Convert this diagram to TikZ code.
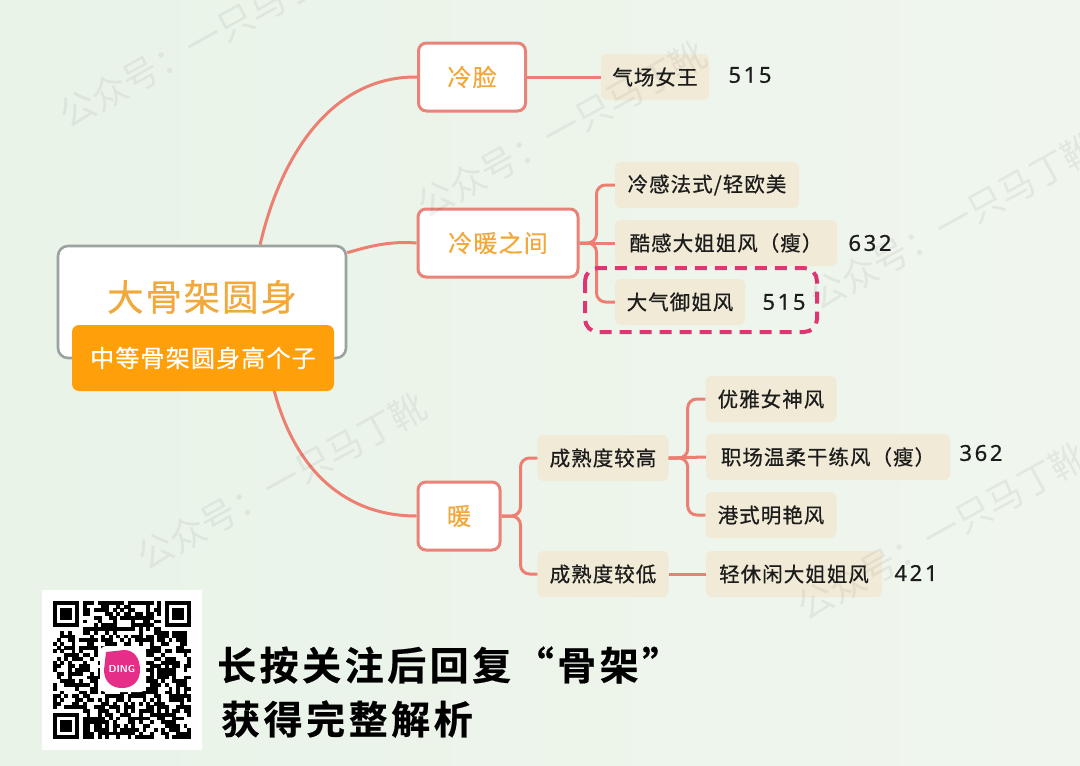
\documentclass[tikz,border=0pt]{standalone}
\usepackage{fontspec}
\usetikzlibrary{calc}
\newfontfamily\cjk[LetterSpace=5,FakeBold=0.6]{Noto Sans CJK SC}
\newfontfamily\cjkb[LetterSpace=9,BoldFont={Noto Sans CJK SC Bold},BoldFeatures={FakeBold=0.5}]{Noto Sans CJK SC}
\newfontfamily\wmfont{Noto Sans CJK SC}
\newfontfamily\numfont[LetterSpace=12,FakeBold=0.5]{Noto Sans}
\definecolor{bgl}{HTML}{E9F3E8}
\definecolor{bgr}{HTML}{F0F6EE}
\definecolor{link}{HTML}{EC7F72}
\definecolor{boxline}{HTML}{E98278}
\definecolor{tan}{HTML}{F1EAD6}
\definecolor{gold}{HTML}{F2A93B}
\definecolor{orange}{HTML}{FF9F0A}
\definecolor{rootline}{HTML}{9BA3A0}
\definecolor{dash}{HTML}{DF3673}
\definecolor{ink}{HTML}{1C1C1C}
\tikzset{
  conn/.style={draw=link,line width=3pt,rounded corners=9pt},
  curve/.style={draw=link,line width=3pt},
  mainbox/.style={draw=boxline,line width=3pt,fill=white,rounded corners=8pt,inner sep=0pt,text=gold,font=\cjk\fontsize{24}{28}\selectfont},
  leaf/.style={fill=tan,rounded corners=6pt,inner sep=0pt,minimum height=46pt,text=ink,font=\cjk\fontsize{20.5}{24}\selectfont},
  num/.style={text=ink,inner sep=0pt,font=\numfont\fontsize{22}{26}\selectfont},
  watermark/.style={text=black,opacity=0.055,rotate=29,anchor=west,inner sep=0pt,font=\wmfont\fontsize{36}{40}\selectfont},
  bigline/.style={text=black,anchor=west,inner sep=0pt,font=\cjkb\bfseries\fontsize{39}{44}\selectfont},
  qrm/.style={fill=black,draw=none},
}
\begin{document}
\begin{tikzpicture}[x=1pt,y=-1pt]
\useasboundingbox (0,0) rectangle (1080,766);
\shade[left color=bgl,right color=bgr] (0,0) rectangle (1080,766);

\node[draw=rootline,line width=2.6pt,fill=white,rounded corners=10pt,minimum width=288pt,minimum height=112pt,inner sep=0pt] (root) at (202,302) {};
\coordinate (rt1) at ($(root.north west)!0.70!(root.north east)$);
\coordinate (rt2) at ($(root.north east)+(0,8)$);
\coordinate (rt3) at (274,390);
\coordinate (bend1) at (507,0);

\node[mainbox,minimum width=107pt,minimum height=68pt] (cold) at (472,77) {冷脸};
\node[mainbox,minimum width=160pt,minimum height=68pt] (mid) at (498,243) {冷暖之间};
\node[mainbox,minimum width=82pt,minimum height=68pt] (warm) at (459,516) {暖};
\node[leaf,minimum width=108pt] (l1) at (655,77) {气场女王};
\node[leaf,minimum width=184pt] (l2) at (707,185) {冷感法式/轻欧美};
\node[leaf,minimum width=222pt] (l3) at (726,243) {酷感大姐姐风（瘦）};
\node[leaf,minimum width=130pt] (l4) at (680,302) {大气御姐风};
\node[leaf,minimum width=131pt] (h) at (603,458) {成熟度较高};
\node[leaf,minimum width=131pt] (lo) at (603,574) {成熟度较低};
\node[leaf,minimum width=131pt] (w1) at (771,399) {优雅女神风};
\node[leaf,minimum width=244pt] (w2) at (828,457) {职场温柔干练风（瘦）};
\node[leaf,minimum width=131pt] (w3) at (771,515) {港式明艳风};
\node[leaf,minimum width=176pt] (w4) at (794,574) {轻休闲大姐姐风};

\draw[curve] (rt1) .. controls (282,150) and (335,76) .. (cold.west);
\draw[curve] (rt2) .. controls (370,246) and (390,241) .. (mid.west);
\draw[curve] (rt3) .. controls (295,470) and (345,516) .. (warm.west);
\draw[conn] (cold.east) -- (l1.west);
\draw[conn] (mid.east) -- (l3.west);
\draw[conn] (mid.east) -- ++(17,0) |- (l2.west);
\draw[conn] (mid.east) -- ++(17,0) |- (l4.west);
\draw[conn] (warm.east) -- ++(19,0) |- (h.west);
\draw[conn] (warm.east) -- ++(19,0) |- (lo.west);
\draw[conn] (h.east) -- (w2.west);
\draw[conn] (h.east) -- ++(19,0) |- (w1.west);
\draw[conn] (h.east) -- ++(19,0) |- (w3.west);
\draw[conn] (lo.east) -- (w4.west);

\node[inner sep=0pt,text=gold,font=\cjk\fontsize{36.5}{40}\selectfont] (title) at (202,297) {大骨架圆身};
\node[fill=orange,rounded corners=7pt,minimum width=262pt,minimum height=66pt,inner sep=0pt,text=white,font=\cjk\fontsize{24}{27}\selectfont] (badge) at (203,358) {中等骨架圆身高个子};

\node[num] (n1) at (750,75) {515};
\node[num] (n2) at (870,243) {632};
\node[num] (n3) at (784,302) {515};
\node[num] (n4) at (981,453) {362};
\node[num] (n5) at (916,573) {421};

\draw[draw=dash,line width=4pt,rounded corners=13pt,dash pattern=on 12pt off 8pt] (585,268) rectangle (817,332);

\fill[white] (42,590) rectangle (202,750);
\pgfmathsetseed{20}
\begin{scope}[shift={(53,601)},x=3.73pt,y=-3.73pt]
  \foreach \r in {0,...,36}{
    \foreach \c in {0,...,36}{
      \pgfmathparse{int(((\r<8 && \c<8) || (\r<8 && \c>28) || (\r>28 && \c<8)) ? 1 : 0)}
      \ifnum\pgfmathresult=0
        \pgfmathparse{int(random(0,99))}
        \ifnum\pgfmathresult<58
          \fill[qrm] (\c,\r) rectangle ++(1.03,1.03);
        \fi
      \fi
    }
  }
  \foreach \ox/\oy in {0/0,30/0,0/30}{
    \fill[qrm] (\ox,\oy) rectangle ++(7,7);
    \fill[white] (\ox+1,\oy+1) rectangle ++(5,5);
    \fill[qrm] (\ox+2,\oy+2) rectangle ++(3,3);
  }
\end{scope}
\fill[white,rounded corners=6pt] (100,646) rectangle (146,692);
\fill[fill=dash!85!magenta] (106,652) -- (124,650) .. controls (134,650) and (140,658) .. (140,670) .. controls (140,682) and (132,688) .. (122,688) .. controls (112,688) and (104,682) .. (104,670) -- cycle;
\node[text=white,inner sep=0pt,font=\sffamily\bfseries\fontsize{10}{12}\selectfont] (logo) at (122,669) {DING};

\node[bigline] (b1) at (217,665) {长按关注后回复“骨架”};
\node[bigline] (b2) at (221,719) {获得完整解析};

\node[watermark] (m1) at (62,118) {公众号：一只马丁靴};
\node[watermark] (m2) at (420,208) {公众号：一只马丁靴};
\node[watermark] (m3) at (812,300) {公众号：一只马丁靴};
\node[watermark] (m4) at (140,560) {公众号：一只马丁靴};
\node[watermark] (m5) at (800,610) {公众号：一只马丁靴};
\end{tikzpicture}
\end{document}
